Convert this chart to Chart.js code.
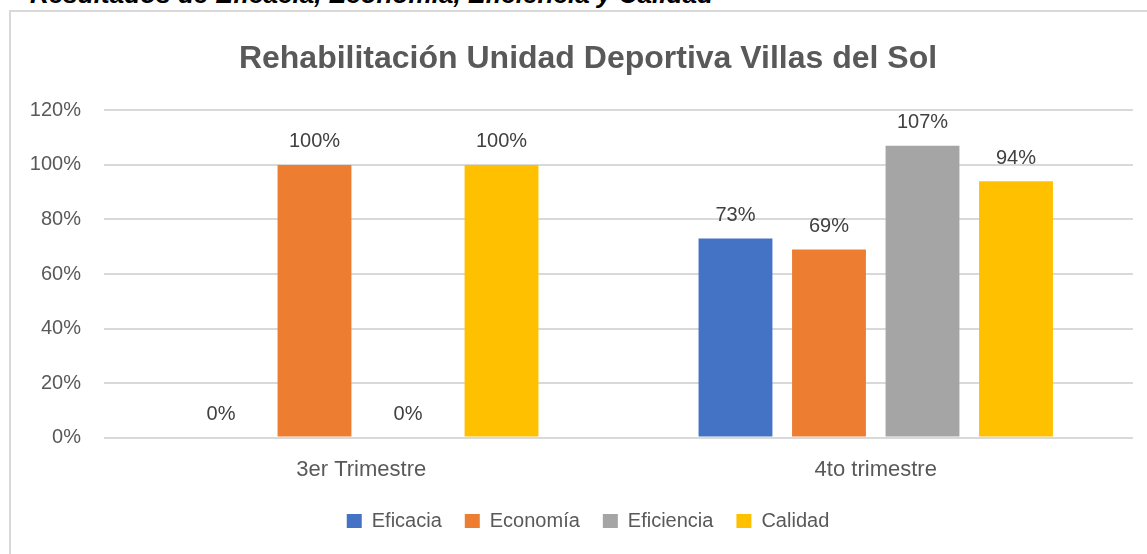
<!DOCTYPE html>
<html>
<head>
<meta charset="utf-8">
<script src="https://cdn.jsdelivr.net/npm/chart.js@4.4.1/dist/chart.umd.min.js"></script>
<style>
  html, body { margin: 0; padding: 0; width: 1147px; height: 554px; overflow: hidden; background: #fff; }
  #heading { position: absolute; left: 30px; top: -19px; font: italic bold 26px "Liberation Sans", Arial, sans-serif; line-height: 26px; color: #000; white-space: nowrap; transform-origin: 0 0; }
  #frame { position: absolute; left: 9px; top: 10px; width: 1154px; height: 560px; border-left: 2px solid #d9d9d9; border-top: 2px solid #d9d9d9; background: #fff; }
  #wrap { position: absolute; left: 0; top: 0; width: 1154px; height: 542px; }
</style>
</head>
<body>
<div id="heading">Resultados de Eficacia, Economía, Eficiencia y Calidad</div>
<div id="frame"><div id="wrap"><canvas id="c"></canvas></div></div>
<script>
const chartTitle = "Rehabilitación Unidad Deportiva Villas del Sol";
const categories = ["3er Trimestre", "4to trimestre"];
const seriesNames = ["Eficacia", "Economía", "Eficiencia", "Calidad"];
const eficacia = [0, 73];
const economia = [100, 69];
const eficiencia = [0, 107];
const calidad = [100, 94];
const seriesColors = ["#4472C4", "#ED7D31", "#A5A5A5", "#FFC000"];
const yTicks = [0, 20, 40, 60, 80, 100, 120];

// fit the cut-off heading width to the reference
(function(){
  const h = document.getElementById('heading');
  const w = h.getBoundingClientRect().width;
  h.style.transform = 'scaleX(' + (683 / w) + ')';
})();

const FONT = '"Liberation Sans", Arial, sans-serif';
const seriesValues = [eficacia, economia, eficiencia, calidad];

const barLabels = {
  id: 'barLabels',
  afterDatasetsDraw(chart) {
    const ctx = chart.ctx;
    ctx.save();
    ctx.font = '20px ' + FONT;
    ctx.fillStyle = '#404040';
    ctx.textAlign = 'center';
    ctx.textBaseline = 'middle';
    chart.data.datasets.forEach((ds, i) => {
      const meta = chart.getDatasetMeta(i);
      meta.data.forEach((el, j) => {
        ctx.fillText(Math.round(ds.data[j]) + '%', el.x, el.y - 23);
      });
    });
    ctx.restore();
  }
};

new Chart(document.getElementById('c'), {
  type: 'bar',
  data: {
    labels: categories,
    datasets: seriesNames.map((n, i) => ({
      label: n,
      data: seriesValues[i],
      backgroundColor: seriesColors[i],
      borderWidth: 0,
      categoryPercentage: 0.727,
      barPercentage: 0.79
    }))
  },
  options: {
    responsive: true,
    maintainAspectRatio: false,
    animation: false,
    layout: { padding: { left: 0, right: 0, top: 0, bottom: 13 } },
    plugins: {
      title: {
        display: true,
        text: chartTitle,
        color: '#595959',
        font: { family: FONT, size: 32, weight: 'bold' },
        padding: { top: 28, bottom: 32 }
      },
      legend: {
        position: 'bottom',
        labels: {
          boxWidth: 15,
          boxHeight: 14,
          padding: 23,
          color: '#595959',
          font: { family: FONT, size: 20 }
        }
      },
      tooltip: { enabled: false }
    },
    scales: {
      x: {
        grid: { display: false, drawTicks: false },
        border: { display: false },
        ticks: { color: '#595959', font: { family: FONT, size: 22 }, padding: 19 },
        afterFit(s) { s.height -= 14; }
      },
      y: {
        min: 0, max: 120,
        afterBuildTicks(s) { s.ticks = yTicks.map(v => ({ value: v })); },
        grid: { color: '#d9d9d9', lineWidth: 2, drawTicks: false },
        border: { display: false },
        ticks: {
          color: '#595959',
          font: { family: FONT, size: 20 },
          padding: 23,
          callback: v => v + '%'
        },
        afterFit(s) { s.width = 93; }
      },
      yRight: {
        position: 'right',
        display: true,
        grid: { display: false, drawTicks: false },
        border: { display: false },
        ticks: { display: false },
        afterFit(s) { s.width = 32; }
      }
    }
  },
  plugins: [barLabels]
});
</script>
</body>
</html>
